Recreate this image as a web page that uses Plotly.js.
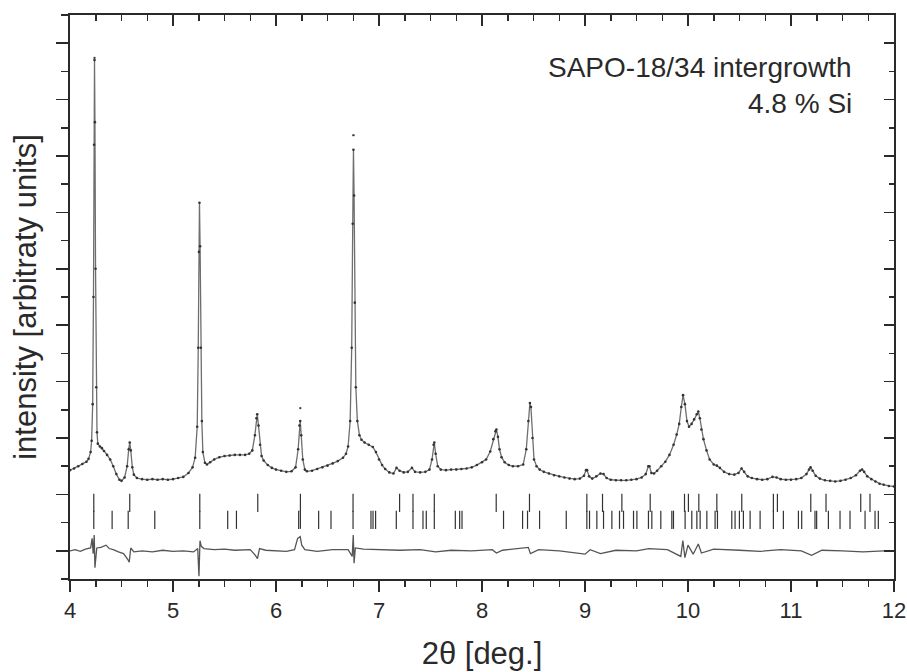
<!DOCTYPE html>
<html>
<head>
<meta charset="utf-8">
<script src="https://cdn.plot.ly/plotly-3.0.1.min.js"></script>
<style>html,body{margin:0;padding:0;background:#fff;}#chart{width:907px;height:672px;}</style>
</head>
<body>
<div id="chart"></div>
<script>
// 2theta positions (deg) and intensities (arbitrary units) of the calculated profile
const profX = [4.00,4.04,4.08,4.12,4.16,4.18,4.20,4.21,4.220,4.228,4.234,4.238,4.242,4.248,4.255,4.262,4.27,4.29,4.31,4.33,4.36,4.39,4.42,4.45,4.48,4.50,4.53,4.555,4.57,4.58,4.59,4.605,4.62,4.65,4.70,4.75,4.80,4.85,4.90,4.95,5.00,5.05,5.10,5.15,5.19,5.215,5.235,5.245,5.252,5.257,5.263,5.27,5.28,5.29,5.31,5.33,5.36,5.40,5.45,5.50,5.55,5.60,5.65,5.70,5.74,5.77,5.795,5.81,5.818,5.83,5.845,5.86,5.88,5.92,5.96,6.00,6.05,6.10,6.15,6.19,6.215,6.228,6.235,6.245,6.26,6.28,6.30,6.35,6.40,6.45,6.50,6.55,6.60,6.65,6.68,6.70,6.72,6.735,6.745,6.752,6.758,6.765,6.775,6.79,6.81,6.83,6.86,6.90,6.94,6.97,7.00,7.03,7.06,7.10,7.14,7.17,7.20,7.24,7.28,7.32,7.35,7.40,7.45,7.49,7.515,7.53,7.537,7.55,7.57,7.60,7.65,7.70,7.75,7.80,7.85,7.90,7.95,8.00,8.04,8.08,8.11,8.13,8.14,8.155,8.17,8.19,8.22,8.26,8.30,8.35,8.40,8.43,8.45,8.465,8.475,8.49,8.505,8.53,8.56,8.60,8.65,8.70,8.75,8.80,8.85,8.90,8.95,8.99,9.01,9.02,9.04,9.07,9.11,9.15,9.18,9.21,9.25,9.30,9.35,9.40,9.45,9.50,9.55,9.59,9.615,9.625,9.645,9.67,9.70,9.74,9.78,9.82,9.86,9.89,9.915,9.935,9.952,9.97,9.99,10.01,10.035,10.06,10.085,10.10,10.115,10.13,10.15,10.18,10.21,10.25,10.28,10.31,10.35,10.40,10.45,10.49,10.52,10.545,10.58,10.62,10.67,10.72,10.77,10.82,10.86,10.90,10.95,11.00,11.05,11.10,11.15,11.175,11.19,11.21,11.24,11.28,11.33,11.38,11.43,11.48,11.53,11.58,11.63,11.67,11.69,11.71,11.74,11.78,11.82,11.86,11.90,11.95,12.00];
const profY = [1.43,1.46,1.50,1.54,1.58,1.63,1.75,1.95,2.6,4.5,7.2,8.70,7.6,5.0,2.9,2.1,1.90,1.85,1.82,1.77,1.70,1.62,1.50,1.36,1.26,1.24,1.30,1.50,1.80,1.92,1.78,1.48,1.35,1.29,1.27,1.26,1.27,1.26,1.27,1.26,1.27,1.29,1.31,1.38,1.48,1.65,2.2,3.6,5.3,6.17,5.4,3.6,2.3,1.75,1.56,1.53,1.57,1.62,1.66,1.68,1.69,1.70,1.70,1.70,1.72,1.78,2.05,2.35,2.42,2.22,1.88,1.68,1.60,1.52,1.47,1.44,1.42,1.40,1.41,1.48,1.80,2.22,2.30,2.05,1.62,1.44,1.41,1.42,1.45,1.48,1.51,1.55,1.59,1.65,1.72,1.85,2.3,3.6,5.8,7.11,6.3,4.4,2.9,2.3,2.05,1.97,1.92,1.88,1.84,1.75,1.62,1.52,1.45,1.39,1.37,1.47,1.42,1.39,1.40,1.47,1.40,1.39,1.40,1.44,1.62,1.88,1.92,1.72,1.50,1.44,1.43,1.44,1.44,1.45,1.46,1.48,1.52,1.57,1.62,1.76,1.98,2.12,2.15,2.02,1.80,1.66,1.57,1.52,1.50,1.50,1.53,1.80,2.3,2.62,2.55,2.0,1.62,1.50,1.44,1.40,1.37,1.34,1.32,1.30,1.28,1.27,1.28,1.33,1.43,1.43,1.32,1.28,1.32,1.37,1.36,1.29,1.26,1.25,1.25,1.25,1.26,1.27,1.30,1.36,1.50,1.50,1.38,1.37,1.42,1.50,1.58,1.70,1.88,2.06,2.25,2.55,2.76,2.60,2.30,2.20,2.25,2.33,2.42,2.47,2.35,2.15,1.98,1.78,1.62,1.53,1.51,1.47,1.40,1.36,1.35,1.38,1.46,1.40,1.32,1.29,1.27,1.26,1.27,1.31,1.30,1.27,1.26,1.26,1.27,1.29,1.36,1.44,1.48,1.42,1.33,1.28,1.25,1.24,1.23,1.24,1.26,1.29,1.34,1.42,1.44,1.40,1.32,1.27,1.23,1.19,1.17,1.15,1.14];
// observed intensities that lie above the calculated peak tops
const obsTopX = [6.752, 6.236, 4.238];
const obsTopY = [7.37, 2.53, 8.74];
// difference curve (observed - calculated)
const diffX = [4.00,4.05,4.10,4.15,4.20,4.215,4.225,4.235,4.242,4.25,4.26,4.30,4.35,4.38,4.42,4.47,4.52,4.56,4.575,4.59,4.62,4.70,4.80,4.90,5.00,5.10,5.20,5.24,5.252,5.262,5.275,5.30,5.40,5.50,5.60,5.75,5.80,5.82,5.84,5.90,6.00,6.10,6.18,6.21,6.235,6.25,6.28,6.40,6.55,6.70,6.74,6.75,6.758,6.77,6.85,7.00,7.20,7.40,7.55,7.70,7.90,8.10,8.14,8.20,8.45,8.47,8.55,8.75,9.00,9.05,9.15,9.30,9.50,9.62,9.80,9.93,9.95,9.97,10.00,10.05,10.10,10.13,10.25,10.50,10.70,10.90,11.10,11.20,11.30,11.50,11.70,11.90,12.00];
const diffY = [0.00,0.02,-0.01,0.03,0.05,0.22,-0.05,0.28,-0.30,-0.15,0.05,0.06,0.10,0.04,0.02,-0.02,-0.05,-0.15,-0.20,0.05,-0.02,0.00,-0.02,0.01,-0.01,0.00,-0.02,0.04,-0.45,0.18,0.08,0.04,0.02,0.03,0.01,0.02,-0.08,-0.14,0.04,0.01,0.00,-0.01,0.02,0.22,0.25,0.10,0.02,-0.01,0.02,0.02,-0.10,0.28,-0.22,0.05,0.03,0.02,0.01,0.02,-0.02,0.01,0.00,0.02,-0.04,0.01,0.06,-0.05,0.02,0.00,-0.06,0.02,-0.05,0.01,0.00,0.04,0.02,-0.10,0.18,-0.12,0.10,-0.06,0.12,-0.04,0.03,0.01,-0.01,0.02,0.00,-0.08,0.01,0.00,-0.02,0.00,0.00];
// reflection positions (deg 2theta), upper row and lower row
const refl1 = [4.231,4.580,5.260,5.823,6.237,6.748,7.200,7.330,7.537,8.138,8.461,9.018,9.170,9.358,9.633,9.966,10.004,10.105,10.280,10.522,10.829,10.868,11.192,11.340,11.677,11.767];
const refl2 = [4.231,4.409,4.565,4.823,5.260,5.531,5.616,6.220,6.237,6.414,6.534,6.748,6.922,6.942,6.967,7.168,7.330,7.427,7.459,7.537,7.741,7.783,7.806,8.209,8.394,8.442,8.559,8.818,9.018,9.044,9.115,9.180,9.261,9.335,9.374,9.471,9.504,9.616,9.649,9.736,9.843,9.859,9.972,10.037,10.086,10.118,10.183,10.263,10.286,10.425,10.457,10.499,10.538,10.603,10.700,10.829,10.926,11.072,11.104,11.233,11.249,11.363,11.476,11.573,11.719,11.816,11.848];
const xTicks = [4,5,6,7,8,9,10,11,12];
const labelLines = ["SAPO-18/34 intergrowth", "4.8 % Si"];

const row1Level = 0.85, row2Level = 0.55;
const font = "Liberation Sans, Arial, Helvetica, sans-serif";
const ink = "#2a2a2a";

const traces = [
  {x: profX, y: profY, type: "scatter", mode: "lines", line: {color: "#6e6e6e", width: 1.3}, hoverinfo: "skip"},
  {x: profX, y: profY, type: "scatter", mode: "markers", marker: {color: "#333", size: 2.6}, hoverinfo: "skip"},
  {x: obsTopX, y: obsTopY, type: "scatter", mode: "markers", marker: {color: "#444", size: 2.4}, hoverinfo: "skip"},
  {x: diffX, y: diffY, type: "scatter", mode: "lines", line: {color: "#555", width: 1.3}, hoverinfo: "skip"},
  {x: refl1, y: refl1.map(() => row1Level), type: "scatter", mode: "markers",
   marker: {symbol: "line-ns", size: 13, line: {color: "#333", width: 1.2}}, hoverinfo: "skip"},
  {x: refl2, y: refl2.map(() => row2Level), type: "scatter", mode: "markers",
   marker: {symbol: "line-ns", size: 13, line: {color: "#333", width: 1.2}}, hoverinfo: "skip"},
  {x: [4, 12], y: [-0.5, 9.5], xaxis: "x2", yaxis: "y2", type: "scatter", mode: "markers",
   marker: {opacity: 0}, hoverinfo: "skip"}
];

const layout = {
  width: 907, height: 672,
  margin: {l: 70, r: 13, t: 15, b: 93},
  paper_bgcolor: "#fff", plot_bgcolor: "#fff",
  showlegend: false,
  font: {family: font, color: ink},
  xaxis: {
    range: [4, 12], tickvals: xTicks, ticktext: xTicks.map(String),
    ticks: "outside", ticklen: 11, tickwidth: 1.5, tickcolor: ink,
    minor: {dtick: 0.25, ticks: "outside", ticklen: 6, tickwidth: 1.5, tickcolor: ink, showgrid: false},
    showline: true, linewidth: 2, linecolor: ink, showgrid: false, zeroline: false,
    tickfont: {size: 22, family: font, color: ink},
    title: {text: "2θ [deg.]", font: {size: 31, family: font, color: ink}, standoff: 20},
    automargin: false
  },
  xaxis2: {
    overlaying: "x", side: "top", range: [4, 12], dtick: 1, tick0: 4,
    ticks: "inside", ticklen: 11, tickwidth: 1.5, tickcolor: ink,
    minor: {dtick: 0.25, ticks: "inside", ticklen: 6, tickwidth: 1.5, tickcolor: ink, showgrid: false},
    showline: true, linewidth: 2, linecolor: ink, showgrid: false, zeroline: false,
    showticklabels: false
  },
  yaxis: {
    range: [-0.5, 9.5], dtick: 1, tick0: 0,
    ticks: "outside", ticklen: 12, tickwidth: 1.5, tickcolor: ink,
    minor: {dtick: 0.5, ticks: "outside", ticklen: 7, tickwidth: 1.5, tickcolor: ink, showgrid: false},
    showline: true, linewidth: 2, linecolor: ink, showgrid: false, zeroline: false,
    showticklabels: false,
    title: {text: "intensity [arbitraty units]", font: {size: 31, family: font, color: ink}, standoff: 10},
    automargin: false
  },
  yaxis2: {
    overlaying: "y", side: "right", range: [-0.5, 9.5], dtick: 1, tick0: 0,
    ticks: "inside", ticklen: 10, tickwidth: 1.5, tickcolor: ink,
    minor: {dtick: 0.5, ticks: "inside", ticklen: 5, tickwidth: 1.5, tickcolor: ink, showgrid: false},
    showline: true, linewidth: 2, linecolor: ink, showgrid: false, zeroline: false,
    showticklabels: false
  },
  annotations: [
    {xref: "paper", yref: "paper", x: 0.951, y: 0.907, xanchor: "right", yanchor: "middle",
     text: labelLines[0], showarrow: false, font: {size: 28, family: font, color: ink}},
    {xref: "paper", yref: "paper", x: 0.951, y: 0.843, xanchor: "right", yanchor: "middle",
     text: labelLines[1], showarrow: false, font: {size: 28, family: font, color: ink}}
  ]
};

Plotly.newPlot("chart", traces, layout, {displayModeBar: false, staticPlot: true});
</script>
</body>
</html>
